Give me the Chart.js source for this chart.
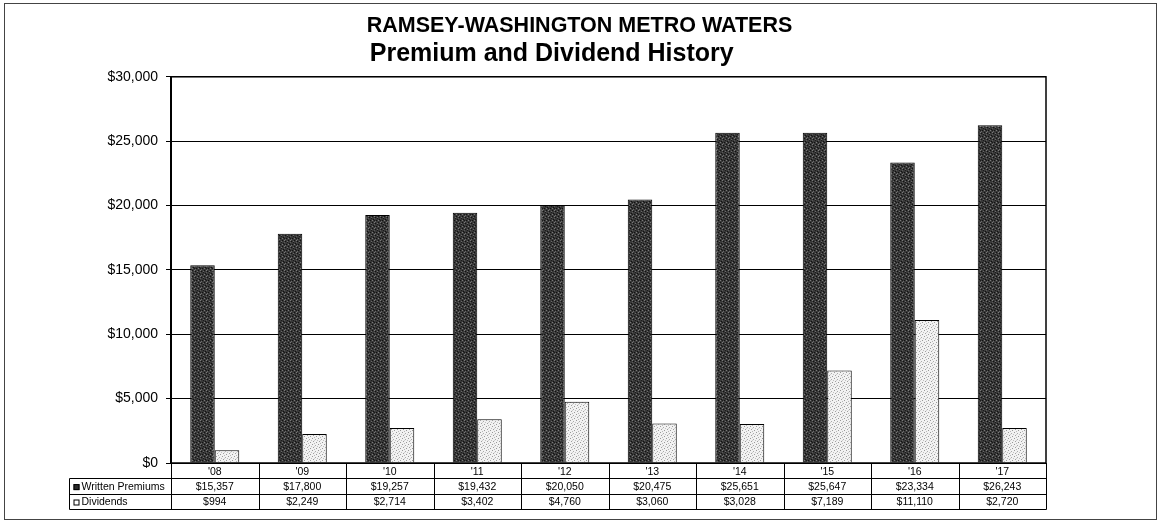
<!DOCTYPE html>
<html>
<head>
<meta charset="utf-8">
<title>Premium and Dividend History</title>
<script src="https://cdn.jsdelivr.net/npm/chart.js@4"></script>
<style>
  body { margin: 0; background: #fff; }
  canvas { display: block; }
</style>
</head>
<body>
<canvas id="chart-premium" width="1159" height="530"></canvas>
<script>
// data
var years = ["'08", "'09", "'10", "'11", "'12", "'13", "'14", "'15", "'16", "'17"];
var writtenPremiums = [15357, 17800, 19257, 19432, 20050, 20475, 25651, 25647, 23334, 26243];
var dividends = [994, 2249, 2714, 3402, 4760, 3060, 3028, 7189, 11110, 2720];
var yTicks = [0, 5000, 10000, 15000, 20000, 25000, 30000];
var seriesNames = ["Written Premiums", "Dividends"];

var FONT = '"Liberation Sans", Arial, sans-serif';

function money(v) {
  return '$' + v.toLocaleString('en-US');
}

// small fixed dither patterns so the bars look like the old printed hatching
function makePattern(base, spots) {
  var p = document.createElement('canvas');
  p.width = 6;
  p.height = 6;
  var pc = p.getContext('2d');
  pc.fillStyle = base;
  pc.fillRect(0, 0, 6, 6);
  spots.forEach(function (s) {
    pc.fillStyle = s[2];
    pc.fillRect(s[0], s[1], 1, 1);
  });
  return pc.createPattern(p, 'repeat');
}

var ctx = document.getElementById('chart-premium').getContext('2d');
var darkFill = makePattern('#383838', [
  [0, 0, '#111'], [3, 1, '#111'], [1, 3, '#111'], [4, 4, '#111'], [5, 2, '#1a1a1a'], [2, 4, '#1a1a1a'],
  [2, 0, '#7a7a7a'], [5, 1, '#6a6a6a'], [0, 4, '#7a7a7a'], [3, 5, '#6a6a6a'], [2, 2, '#5a5a5a']
]);
var lightFill = makePattern('#f2f2f2', [
  [0, 0, '#999'], [3, 1, '#aaa'], [1, 3, '#a0a0a0'], [4, 4, '#999'],
  [5, 2, '#c0c0c0'], [2, 5, '#b8b8b8'], [2, 2, '#d0d0d0']
]);

//============ Data table under the plot
var tablePlugin = {
  id: 'dataTable',
  afterDraw: function (chart) {
    var c = chart.ctx;
    var area = chart.chartArea;
    var x = chart.scales.x;
    var rowH = 15.4;
    var half = (x.getPixelForValue(1) - x.getPixelForValue(0)) / 2;
    var labelLeft = Math.round(area.left - 102) + 0.5;
    var y0 = area.bottom;
    var right = Math.round(area.right) + 0.5;

    c.save();
    // page frame
    c.strokeStyle = '#444';
    c.lineWidth = 1;
    c.strokeRect(4.5, 3.5, 1152, 516);

    // plot frame
    c.strokeStyle = '#000';
    c.lineWidth = 1.5;
    c.strokeRect(area.left, area.top, area.right - area.left, area.bottom - area.top);

    c.lineWidth = 1;
    c.beginPath();
    for (var r = 1; r <= 3; r++) {
      var yy = Math.round(y0 + r * rowH) + 0.5;
      c.moveTo(labelLeft, yy);
      c.lineTo(right, yy);
    }
    c.moveTo(labelLeft, Math.round(y0 + rowH) + 0.5);
    c.lineTo(labelLeft, Math.round(y0 + 3 * rowH) + 0.5);
    for (var i = 0; i <= years.length; i++) {
      var xx = Math.round(x.getPixelForValue(0) - half + i * 2 * half) + 0.5;
      c.moveTo(xx, y0);
      c.lineTo(xx, Math.round(y0 + 3 * rowH) + 0.5);
    }
    c.stroke();

    c.fillStyle = '#000';
    c.font = '10.5px ' + FONT;
    c.textBaseline = 'middle';
    c.textAlign = 'center';
    years.forEach(function (yr, i) {
      var cx = x.getPixelForValue(i);
      c.fillText(yr, cx, y0 + rowH * 0.5 + 1);
      c.fillText(money(writtenPremiums[i]), cx, y0 + rowH * 1.5 + 1);
      c.fillText(money(dividends[i]), cx, y0 + rowH * 2.5 + 1);
    });

    // row labels with legend keys
    c.textAlign = 'left';
    var fills = ['#2a2a2a', '#fff'];
    seriesNames.forEach(function (name, k) {
      var cy = y0 + rowH * (1.5 + k) + 1;
      c.fillStyle = fills[k];
      c.fillRect(labelLeft + 4, cy - 3, 6, 6);
      c.strokeStyle = '#000';
      c.strokeRect(labelLeft + 4.5, cy - 2.5, 5, 5);
      c.fillStyle = '#000';
      c.fillText(name, labelLeft + 12, cy);
    });
    c.restore();
  }
};

var chartPremium = new Chart(ctx, {
  type: 'bar',
  data: {
    labels: years,
    datasets: [
      {
        label: seriesNames[0],
        data: writtenPremiums,
        backgroundColor: darkFill,
        borderColor: '#000',
        borderWidth: 1
      },
      {
        label: seriesNames[1],
        data: dividends,
        backgroundColor: lightFill,
        borderColor: '#000',
        borderWidth: 1
      }
    ]
  },
  options: {
    responsive: false,
    animation: false,
    layout: {
      padding: { left: 0, right: 0, top: 0, bottom: 67 }
    },
    datasets: {
      bar: { categoryPercentage: 0.56, barPercentage: 1 }
    },
    scales: {
      x: {
        display: false
      },
      y: {
        min: yTicks[0],
        max: yTicks[yTicks.length - 1],
        ticks: {
          stepSize: yTicks[1] - yTicks[0],
          color: '#000',
          padding: 8,
          font: { family: FONT, size: 14 },
          callback: function (v) { return money(v); }
        },
        grid: {
          color: '#000',
          lineWidth: 1,
          tickLength: 5
        },
        border: { color: '#000', width: 2 },
        afterFit: function (scale) { scale.width = 171; }
      },
      // empty right-hand axis only to reserve the blank margin, keeps the title centred on the page
      yRight: {
        position: 'right',
        grid: { display: false },
        ticks: { display: false },
        border: { display: false },
        afterFit: function (scale) { scale.width = 113; }
      }
    },
    plugins: {
      legend: { display: false },
      tooltip: { enabled: false },
      title: {
        display: true,
        text: 'RAMSEY-WASHINGTON METRO WATERS',
        color: '#000',
        font: { family: FONT, size: 21.5, weight: 'bold' },
        padding: { top: 13, bottom: 0 }
      },
      subtitle: {
        display: true,
        // trailing spaces nudge it left like the original layout
        text: 'Premium and Dividend History        ',
        color: '#000',
        font: { family: FONT, size: 25, weight: 'bold' },
        padding: { top: 0, bottom: 8 }
      }
    }
  },
  plugins: [tablePlugin]
});
</script>
</body>
</html>
